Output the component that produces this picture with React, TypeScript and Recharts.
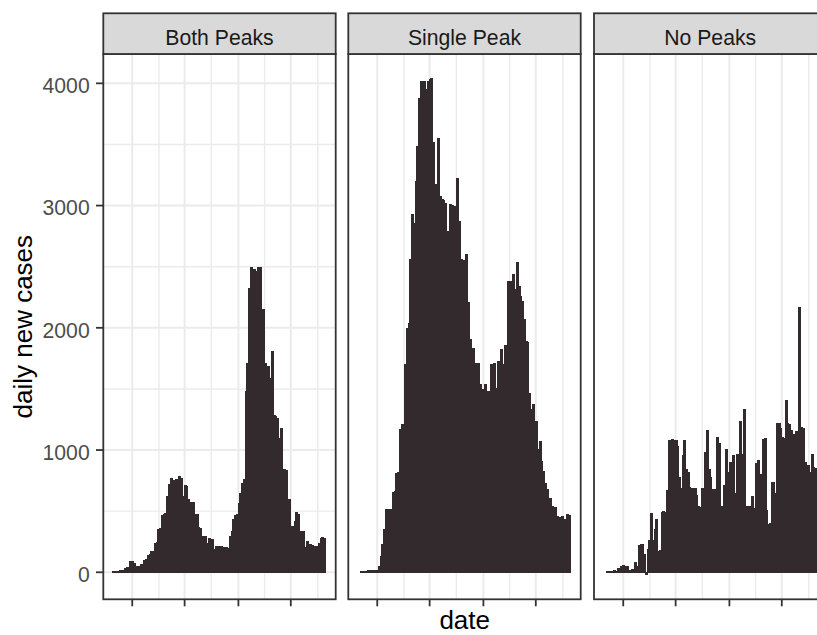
import React from 'react';
import { BarChart, Bar, XAxis, YAxis, CartesianGrid } from 'recharts';

const panelNames = ['Both Peaks', 'Single Peak', 'No Peaks'];

const bothPeaks: (number | null)[] = [
  2, 4, 3, 5, 10, 14, 16, 28, 35, 33,
  85, 88, 73, 48, 45, 47, 58, 62, 98, 104,
  138, 145, 166, 172, 232, 241, 348, 356, 466, 472,
  475, 618, 714, 763, 714, 752, 758, 605, 782, 769,
  618, 708, 703, 591, 568, 563, 566, 474, 468, 362,
  357, 291, 286, 288, 237, 278, 223, 264, 182, 207,
  211, 209, 212, 198, 194, 197, 195, 291, 332, 428,
  466, 471, 564, 646, 728, 755, 1477, 1710, 2323, 2492,
  2323, 2473, 2459, 2492, 2492, 2145, 2145, 1710, 1600, 1682,
  1587, 1804, 1280, 1275, 1260, 1096, 1178, 837, 840, 830,
  591, 591, 373, 373, 410, 485, 470, 335, 335, 330,
  200, 250, 182, 223, 220, 196, 209, 212, 237, 278,
  280, 276,
];

const singlePeak: (number | null)[] = [
  null, null, 5, 4, 6, 5, 13, 12, 14, 13,
  8, 9, 49, 128, 223, 346, 510, 505, 512, 508,
  651, 659, 810, 812, 1164, 1210, 1206, 1700, 1996, 2037,
  2555, 2923, 2855, 3195, 3482, 3877, 4013, 3550, 4013, 3945,
  4013, 4033, 4037, 3514, 3168, 3165, 3550, 3073, 3046, 3040,
  3018, 2786, 2677, 3005, 3000, 2991, 2773, 3223, 2868, 2555,
  2550, 2446, 2596, 2201, 1900, 1832, 1825, 1710, 1587, 1710,
  1532, 1497, 1490, 1532, 1477, 1480, 1696, 1641, 1710, 1505,
  1723, 1696, 1818, 1696, 1851, 1848, 2377, 2377, 2370, 2432,
  2310, 2536, 2337, 2255, 2214, 2064, 1886, 1880, 1464, 1328,
  1369, 1205, 1232, 1000, 1069, 905, 823, 728, 673, 605,
  600, 532, 455, 524, 455, 401, 442, 455, 428, 401,
  469, 466,
];

const noPeaks: (number | null)[] = [
  null, null, 3, 3, 4, 8, 9, 8, 27, 27,
  49, 50, 44, 44, 16, 15, 17, 16, 76, 49,
  213, 227, 225, 145, -18, 186, 254, 480, 254, 344,
  432, 172, 180, 491, 495, 490, 663, 1072, 759, 1085,
  1080, 1072, 1031, 772, 682, 950, 1072, 840, 818, 690,
  682, 680, 684, 623, 532, 530, 682, 609, 977, 1154,
  840, 772, 677, 675, 418, 1099, 1053, 536, 477, 709,
  1004, 818, 895, 890, 950, 645, 963, 960, 1228, 963,
  1331, 445, 536, 540, 533, 618, 523, 886, 914, 382,
  800, 1085, 1091, 504, 391, 395, 736, 732, 645, 1216,
  1212, 1173, 1099, 1095, 1404, 1216, 1210, 1154, 1127, 1072,
  1146, 1127, 2168, 1181, 1178, 900, 818, 873, 818, 963,
  854, 850,
];

const seriesList = [bothPeaks, singlePeak, noPeaks];

const yTicks = [0, 1000, 2000, 3000, 4000];
const yMinorGrid = [500, 1500, 2500, 3500];
const xMajorDays = [10.7, 40.7, 71.5, 101.5];
const xMinorDays = [26, 56, 86.5, 117];

// layout
const PANEL_LEFTS = [103.3, 348.3, 594];
const PLOT_W = 232.4;
const PLOT_TOP = 54;
const PLOT_H = 545.3;
const STRIP_TOP = 13.3;
const AXIS_W = 70;
const XAXIS_H = 14;
const X_DOMAIN: [number, number] = [-6.05, 127.05];
const Y_DOMAIN: [number, number] = [-221, 4240];

const BAR_COLOR = '#332a2e';
const GRID_COLOR = '#ebebeb';
const BORDER_COLOR = '#333333';
const FONT = '"Liberation Sans", Arial, Helvetica, sans-serif';

const YTick = (props: any) => {
  const { x, y, payload } = props;
  return (
    <text x={x} y={y} dy={9.8} textAnchor="end" fill="#4d4d4d" fontSize={21.2} fontFamily={FONT}>
      {payload.value}
    </text>
  );
};

function Panel({ values, index }: { values: (number | null)[]; index: number }) {
  const rows = values.map((v, i) => ({ day: i, value: v }));
  const showY = index === 0;
  return (
    <div style={{ position: 'absolute', left: PANEL_LEFTS[index] - AXIS_W, top: PLOT_TOP }}>
      <BarChart
        width={AXIS_W + PLOT_W}
        height={PLOT_H + XAXIS_H}
        data={rows}
        margin={{ top: 0, right: 0, bottom: 0, left: 0 }}
      >
        <CartesianGrid
          stroke={GRID_COLOR}
          strokeWidth={1.4}
          horizontalValues={yMinorGrid}
          verticalValues={xMinorDays}
        />
        <CartesianGrid
          stroke={GRID_COLOR}
          strokeWidth={2}
          horizontalValues={yTicks}
          verticalValues={xMajorDays}
        />
        <XAxis
          type="number"
          dataKey="day"
          scale="linear"
          domain={X_DOMAIN}
          allowDataOverflow
          ticks={xMajorDays}
          interval={0}
          tickFormatter={() => ''}
          axisLine={false}
          tickLine={{ stroke: BORDER_COLOR, strokeWidth: 1.8 }}
          tickSize={7}
          height={XAXIS_H}
        />
        <YAxis
          type="number"
          domain={Y_DOMAIN}
          allowDataOverflow
          ticks={yTicks}
          interval={0}
          width={AXIS_W}
          axisLine={false}
          tickSize={7}
          tickMargin={6.3}
          tickLine={showY ? { stroke: BORDER_COLOR, strokeWidth: 1.8 } : false}
          tick={showY ? <YTick /> : false}
        />
        <Bar
          dataKey="value"
          fill={BAR_COLOR}
          stroke={BAR_COLOR}
          strokeWidth={1.5}
          strokeLinejoin="miter"
          barSize={1.5}
          shapeRendering="crispEdges"
          isAnimationActive={false}
        />
      </BarChart>
    </div>
  );
}

export default function App() {
  return (
    <div
      style={{
        position: 'absolute',
        left: 0,
        top: 0,
        width: 817,
        height: 635,
        overflow: 'hidden',
        background: '#ffffff',
        fontFamily: FONT,
      }}
    >
      {seriesList.map((vals, i) => (
        <Panel key={panelNames[i]} values={vals} index={i} />
      ))}
      <svg
        width={817}
        height={635}
        style={{ position: 'absolute', left: 0, top: 0, pointerEvents: 'none' }}
      >
        {panelNames.map((name, i) => {
          const L = PANEL_LEFTS[i];
          return (
            <g key={name}>
              <rect
                x={L}
                y={PLOT_TOP}
                width={PLOT_W}
                height={PLOT_H}
                fill="none"
                stroke={BORDER_COLOR}
                strokeWidth={1.8}
              />
              <rect
                x={L}
                y={STRIP_TOP}
                width={PLOT_W}
                height={PLOT_TOP - STRIP_TOP}
                fill="#d9d9d9"
                stroke={BORDER_COLOR}
                strokeWidth={1.8}
              />
              <text
                x={L + PLOT_W / 2}
                y={45}
                textAnchor="middle"
                fill="#1a1a1a"
                fontSize={21.2}
                fontFamily={FONT}
              >
                {name}
              </text>
            </g>
          );
        })}
        <text
          x={464.7}
          y={629}
          textAnchor="middle"
          fill="#000000"
          fontSize={26}
          fontFamily={FONT}
        >
          date
        </text>
        <text
          x={32.5}
          y={326.7}
          transform="rotate(-90, 32.5, 326.7)"
          textAnchor="middle"
          fill="#000000"
          fontSize={26}
          fontFamily={FONT}
        >
          daily new cases
        </text>
      </svg>
    </div>
  );
}
